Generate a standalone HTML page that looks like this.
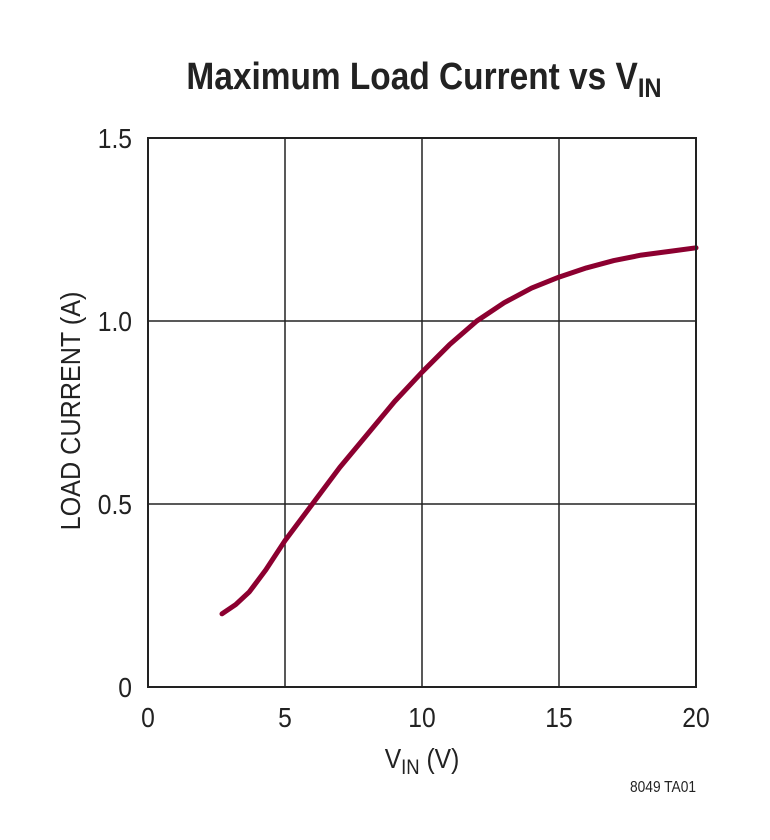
<!DOCTYPE html>
<html><head><meta charset="utf-8"><style>
body{margin:0;background:#fff;}
svg text{font-family:"Liberation Sans",sans-serif;fill:#222;}
</style></head><body>
<svg width="770" height="835" viewBox="0 0 770 835">
<text transform="translate(424,89) scale(0.88,1)" text-anchor="middle" font-size="38" font-weight="bold">Maximum Load Current vs V<tspan font-size="27" dy="8">IN</tspan></text>
<g id="grid"></g>
<g id="ticks"></g>
<path id="curve" fill="none" stroke="#8c0030" stroke-width="5" stroke-linecap="round" stroke-linejoin="round"/>
<rect x="148" y="138" width="548" height="549" fill="none" stroke="#222" stroke-width="2"/>
<text transform="translate(422,768) scale(0.88,1)" text-anchor="middle" font-size="28">V<tspan font-size="21" dy="6">IN</tspan><tspan dy="-6"> (V)</tspan></text>
<text transform="translate(80,411) rotate(-90) scale(0.9,1)" text-anchor="middle" font-size="28">LOAD CURRENT (A)</text>
<text transform="translate(696,792) scale(0.86,1)" text-anchor="end" font-size="16">8049 TA01</text>
</svg>
<script>
const xTicks=[0,5,10,15,20];
const yTicks=[0,0.5,1.0,1.5];
const yTickLabels=["0","0.5","1.0","1.5"];
const vin=[2.7,3.2,3.7,4.3,5,6,7,8,9,10,11,12,13,14,15,16,17,18,19,20];
const current=[0.2,0.225,0.26,0.32,0.4,0.5,0.6,0.69,0.78,0.86,0.935,1.0,1.05,1.09,1.12,1.145,1.165,1.18,1.19,1.2];
const X=v=>148+v*(548/20), Y=a=>687-a*(549/1.5);
const ns="http://www.w3.org/2000/svg";
const grid=document.getElementById('grid'), ticks=document.getElementById('ticks');
xTicks.forEach(t=>{
 const l=document.createElementNS(ns,'line');
 l.setAttribute('x1',X(t));l.setAttribute('x2',X(t));l.setAttribute('y1',138);l.setAttribute('y2',687);
 l.setAttribute('stroke','#222');l.setAttribute('stroke-width','1.5');
 
 
 grid.appendChild(l);
 const tx=document.createElementNS(ns,'text');
 tx.setAttribute('transform','translate('+X(t)+',727) scale(0.88,1)');tx.setAttribute('text-anchor','middle');tx.setAttribute('font-size','28');
 tx.textContent=t;
 
 
 ticks.appendChild(tx);
});
yTicks.forEach((t,i)=>{
 const l=document.createElementNS(ns,'line');
 l.setAttribute('y1',Y(t));l.setAttribute('y2',Y(t));l.setAttribute('x1',148);l.setAttribute('x2',696);
 l.setAttribute('stroke','#222');l.setAttribute('stroke-width','1.5');
 
 
 grid.appendChild(l);
 const tx=document.createElementNS(ns,'text');
 tx.setAttribute('transform','translate(132,'+(Y(t)+10)+') scale(0.88,1)');tx.setAttribute('text-anchor','end');tx.setAttribute('font-size','28');
 tx.textContent=yTickLabels[i];
 
 
 ticks.appendChild(tx);
});
document.getElementById('curve').setAttribute('d',vin.map((v,i)=>(i?'L':'M')+X(v).toFixed(1)+','+Y(current[i]).toFixed(1)).join(' '));
</script>
</body></html>
